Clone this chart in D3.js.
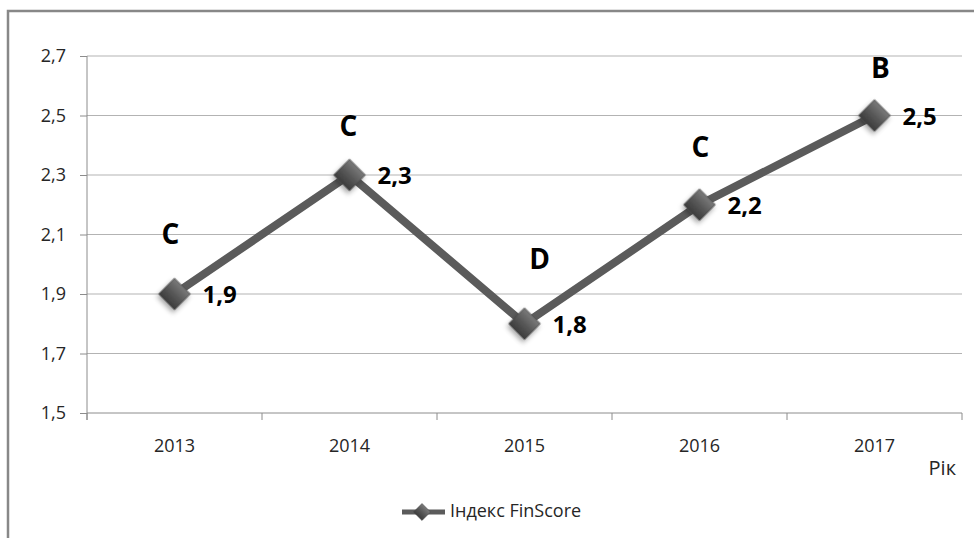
<!DOCTYPE html>
<html>
<head>
<meta charset="utf-8">
<script src="https://cdn.jsdelivr.net/npm/d3@7"></script>
<style>
  body { margin: 0; background: #fff; }
  svg, svg text { font-family: "Open Sans", "Noto Sans", sans-serif; }
</style>
</head>
<body>
<svg id="chart" width="974" height="538"></svg>
<script>
const years = ["2013", "2014", "2015", "2016", "2017"];
const finScore = [1.9, 2.3, 1.8, 2.2, 2.5];
const grades = ["C", "C", "D", "C", "B"];
const yTicks = [1.5, 1.7, 1.9, 2.1, 2.3, 2.5, 2.7];
const seriesName = "Індекс FinScore";
const xAxisTitle = "Рік";

const width = 974,
  height = 538,
  margin = { top: 56, right: 12, bottom: 125, left: 87 },
  plotW = width - margin.left - margin.right,
  plotH = height - margin.top - margin.bottom,
  lineColor = "#5b5b5b",
  fontFamily = '"Open Sans", "Noto Sans", sans-serif',
  // hand nudges of the grade letters, like the original's moved labels
  gradeNudge = [[-4, -57], [-1, -46], [15, -62], [1, -55], [6, -45]];

const fmt = v => d3.format(".1f")(v).replace(".", ",");

const svg = d3.select("#chart");

// outer frame (cut off on the right and bottom in the original)
svg.append("rect")
  .attr("x", 8).attr("y", 11)
  .attr("width", 1000).attr("height", 600)
  .attr("fill", "none")
  .attr("stroke", "#888")
  .attr("stroke-width", 2.5);

const defs = svg.append("defs");
const grad = defs.append("linearGradient")
  .attr("id", "diamondGrad")
  .attr("x1", "0").attr("y1", "0").attr("x2", "0").attr("y2", "1");
grad.append("stop").attr("offset", "0%").attr("stop-color", "#7a7a7a");
grad.append("stop").attr("offset", "55%").attr("stop-color", "#555");
grad.append("stop").attr("offset", "100%").attr("stop-color", "#3c3c3c");
const shadow = defs.append("filter")
  .attr("id", "shadow")
  .attr("x", "-50%").attr("y", "-50%").attr("width", "200%").attr("height", "200%");
shadow.append("feDropShadow")
  .attr("dx", 1).attr("dy", 3)
  .attr("stdDeviation", 2.5)
  .attr("flood-color", "#000")
  .attr("flood-opacity", 0.35);

const x = d3.scaleBand().domain(years).range([0, plotW]);
const y = d3.scaleLinear().domain([1.5, 2.7]).range([plotH, 0]);

const g = svg.append("g")
  .attr("transform", `translate(${margin.left},${margin.top})`);

// grid lines
g.append("g")
  .selectAll("line")
  .data(yTicks.slice(1))
  .enter()
  .append("line")
  .attr("x1", 0).attr("x2", plotW)
  .attr("y1", d => y(d)).attr("y2", d => y(d))
  .attr("stroke", "#b3b3b3")
  .attr("stroke-width", 1);

// y axis
const yAxis = g.append("g")
  .call(d3.axisLeft(y).tickValues(yTicks).tickFormat(fmt).tickSize(7).tickPadding(14))
  .attr("font-family", fontFamily)
  .attr("font-size", 18);
yAxis.select(".domain").attr("stroke", "#8c8c8c").attr("d", `M0,${plotH + 7}V0`);
yAxis.selectAll(".tick line").attr("stroke", "#8c8c8c");
yAxis.selectAll("text").attr("fill", "#262626");

// x axis with ticks between the categories
const xAxis = g.append("g")
  .attr("transform", `translate(0,${plotH})`)
  .call(d3.axisBottom(x).tickSize(0).tickPadding(26))
  .attr("font-family", fontFamily)
  .attr("font-size", 18);
xAxis.select(".domain").attr("stroke", "#8c8c8c").attr("d", `M0,0H${plotW}`);
xAxis.selectAll("text").attr("fill", "#262626");
xAxis.selectAll(".sep")
  .data(years.concat(["end"]))
  .enter()
  .append("line")
  .attr("class", "sep")
  .attr("x1", (d, i) => i * x.step())
  .attr("x2", (d, i) => i * x.step())
  .attr("y1", 0).attr("y2", 7)
  .attr("stroke", "#8c8c8c");

g.append("text")
  .attr("x", plotW - 6)
  .attr("y", plotH + 62)
  .attr("text-anchor", "end")
  .attr("fill", "#262626")
  .style("font-size", "20px")
  .text(xAxisTitle);

const cx = i => x(years[i]) + x.bandwidth() / 2;

// series line
g.append("path")
  .datum(finScore)
  .attr("fill", "none")
  .attr("stroke", lineColor)
  .attr("stroke-width", 8)
  .attr("stroke-linejoin", "miter")
  .attr("d", d3.line().x((d, i) => cx(i)).y(d => y(d)));

const diamond = d3.symbol().type(d3.symbolSquare).size(500);

g.append("g")
  .selectAll("path")
  .data(finScore)
  .enter()
  .append("path")
  .attr("d", diamond)
  .attr("transform", (d, i) => `translate(${cx(i)},${y(d)}) rotate(45)`)
  .attr("fill", "url(#diamondGrad)")
  .attr("stroke", "#444")
  .attr("stroke-width", 0.6)
  .attr("filter", "url(#shadow)");

// value labels
g.append("g")
  .selectAll("text")
  .data(finScore)
  .enter()
  .append("text")
  .attr("x", (d, i) => cx(i) + 28)
  .attr("y", d => y(d) + 3)
  .attr("dominant-baseline", "middle")
  .attr("fill", "#000")
  .style("font-size", "24px")
  .style("font-weight", "bold")
  .text(fmt);

// grade letters
g.append("g")
  .selectAll("text")
  .data(grades)
  .enter()
  .append("text")
  .attr("x", (d, i) => cx(i) + gradeNudge[i][0])
  .attr("y", (d, i) => y(finScore[i]) + gradeNudge[i][1])
  .attr("text-anchor", "middle")
  .attr("dominant-baseline", "middle")
  .attr("fill", "#000")
  .style("font-size", "28px")
  .style("font-weight", "bold")
  .text(d => d);

// legend
const legend = svg.append("g").attr("transform", "translate(402,512)");
legend.append("line")
  .attr("x1", 0).attr("x2", 43)
  .attr("stroke", lineColor)
  .attr("stroke-width", 5);
legend.append("path")
  .attr("d", d3.symbol().type(d3.symbolSquare).size(145))
  .attr("transform", "translate(20,0) rotate(45)")
  .attr("fill", "url(#diamondGrad)")
  .attr("stroke", "#444")
  .attr("stroke-width", 0.5);
legend.append("text")
  .attr("x", 48)
  .attr("y", 0)
  .attr("dominant-baseline", "middle")
  .attr("fill", "#262626")
  .style("font-size", "18px")
  .text(seriesName);
</script>
</body>
</html>
